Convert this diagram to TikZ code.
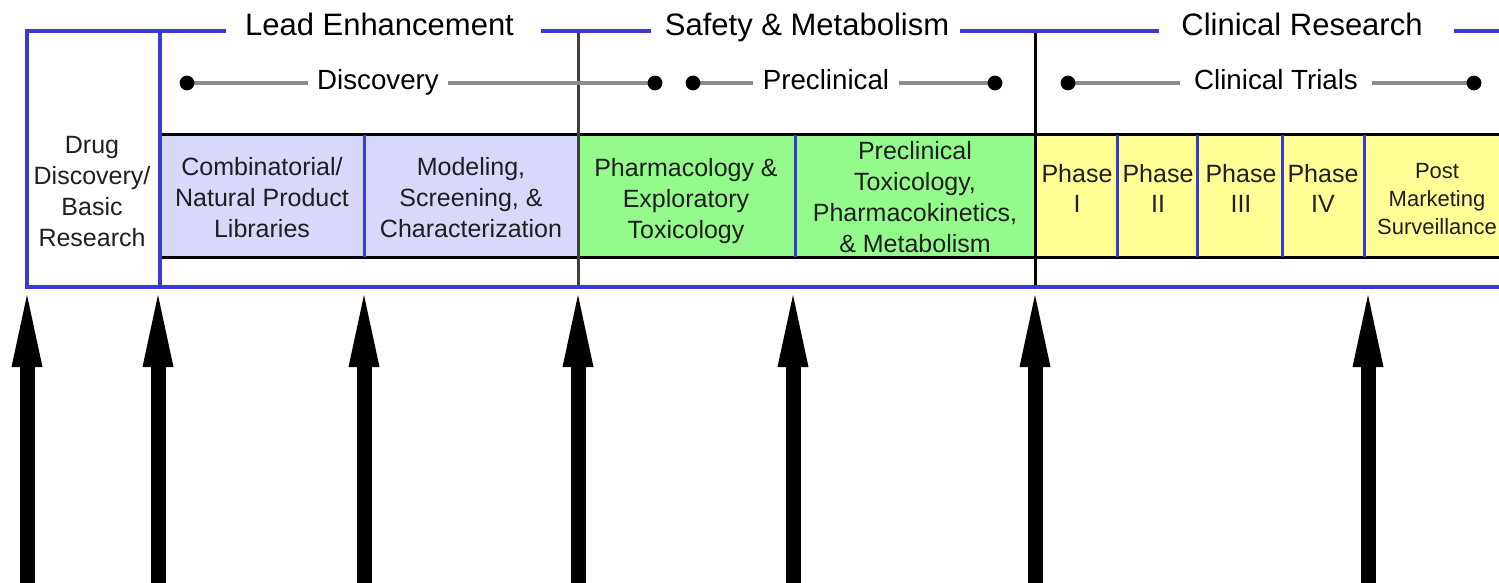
\documentclass[tikz,border=0pt]{standalone}
\usepackage{fontspec}
\setmainfont{Liberation Sans}
\usetikzlibrary{arrows.meta}
\definecolor{frameblue}{RGB}{58,58,208}
\definecolor{lav}{RGB}{216,216,250}
\definecolor{grn}{RGB}{148,250,140}
\definecolor{ylw}{RGB}{255,255,150}
\definecolor{tgray}{RGB}{140,140,140}
\definecolor{dgray}{RGB}{64,64,64}
\begin{document}
\begin{tikzpicture}[x=0.5pt,y=-0.5pt,
  title/.style={font=\fontsize{15.5pt}{18pt}\selectfont, anchor=base, inner sep=0pt},
  sub/.style={font=\fontsize{13.85pt}{16pt}\selectfont, anchor=base, inner xsep=4.5pt, inner ysep=0pt},
  cell/.style={font=\fontsize{12.5pt}{15.5pt}\selectfont, align=center, inner sep=0pt, text=black!88},
  phasetxt/.style={font=\fontsize{12.5pt}{15pt}\selectfont, align=center, inner sep=0pt, text=black!88},
  posttxt/.style={font=\fontsize{11pt}{14pt}\selectfont, align=center, inner sep=0pt, text=black!88},
  frame/.style={frameblue, line width=2pt},
  divider/.style={frameblue, line width=1.5pt},
  rule/.style={black, line width=1.5pt},
  tline/.style={tgray, line width=2.4pt},
  dot/.style={black},
  bigarrow/.style={black, line width=7.5pt, -{Triangle[width=15.5pt,length=36pt,line width=0pt]}}
]
\useasboundingbox (0,0) rectangle (1499,583);
\clip (0,0) rectangle (1499,583);

% cell fills
\fill[lav] (160,135) rectangle (578,257);
\fill[grn] (578,135) rectangle (1035,257);
\fill[ylw] (1035,135) rectangle (1520,257);

% horizontal rules
\draw[rule] (160,135) -- (1520,135);
\draw[rule] (160,257) -- (1520,257);

% dividers inside cells
\foreach \xx in {364,795,1117,1197,1282,1364}
  \draw[divider] (\xx,135) -- (\xx,257);

% section verticals
\draw[dgray, line width=1.5pt] (578,31) -- (578,287);
\draw[rule] (1035,31) -- (1035,287);

% blue frame
\draw[frame] (226,31) -- (27,31) -- (27,287) -- (1520,287);
\draw[frame] (541,31) -- (651,31);
\draw[frame] (960,31) -- (1159,31);
\draw[frame] (1454,31) -- (1520,31);
\draw[frame] (160,31) -- (160,287);

% titles
\node[title] (lead) at (379.5,36) {Lead Enhancement};
\node[title] (safe) at (807,36) {Safety \& Metabolism};
\node[title] (clin) at (1302,36) {Clinical Research};

% timeline labels
\node[sub] (disc) at (378,90) {Discovery};
\node[sub] (prec) at (826,90) {Preclinical};
\node[sub, inner xsep=7pt] (ctri) at (1276,90) {Clinical Trials};

\coordinate (d1) at (187,83);
\coordinate (d2) at (655,83);
\coordinate (d3) at (693,83);
\coordinate (d4) at (995,83);
\coordinate (d5) at (1068,83);
\coordinate (d6) at (1474,83);

\draw[tline] (d1) -- (d1 -| disc.west);
\draw[tline] (disc.east |- d2) -- (d2);
\draw[tline] (d3) -- (d3 -| prec.west);
\draw[tline] (prec.east |- d4) -- (d4);
\draw[tline] (d5) -- (d5 -| ctri.west);
\draw[tline] (ctri.east |- d6) -- (d6);
\foreach \d in {d1,d2,d3,d4,d5,d6}
  \fill[dot] (\d) circle (3.7pt);

% cell texts
\node[cell] (drug) at (92,191.5) {Drug\\Discovery/\\Basic\\Research};
\node[cell] (comb) at (262,198) {Combinatorial/\\Natural Product\\Libraries};
\node[cell] (model) at (471,198) {Modeling,\\Screening, \&\\Characterization};
\node[cell] (pharm) at (686,201.5) {Pharmacology \&\\Exploratory\\Toxicology};
\node[cell] (tox) at (915,197) {Preclinical\\Toxicology,\\Pharmacokinetics,\\\& Metabolism};
\node[phasetxt] (ph1) at (1077,188) {Phase\\I};
\node[phasetxt] (ph2) at (1158,188) {Phase\\II};
\node[phasetxt] (ph3) at (1241,188) {Phase\\III};
\node[phasetxt] (ph4) at (1323,188) {Phase\\IV};
\node[posttxt] (post) at (1437,199.5) {Post\\Marketing\\Surveillance};

% arrows
\foreach \i/\xx in {1/27,2/158,3/364,4/578,5/793,6/1035,7/1368}{
  \coordinate (b\i) at (\xx,600);
  \coordinate (t\i) at (\xx,295);
  \draw[bigarrow] (b\i) -- (t\i);
}
\end{tikzpicture}
\end{document}
